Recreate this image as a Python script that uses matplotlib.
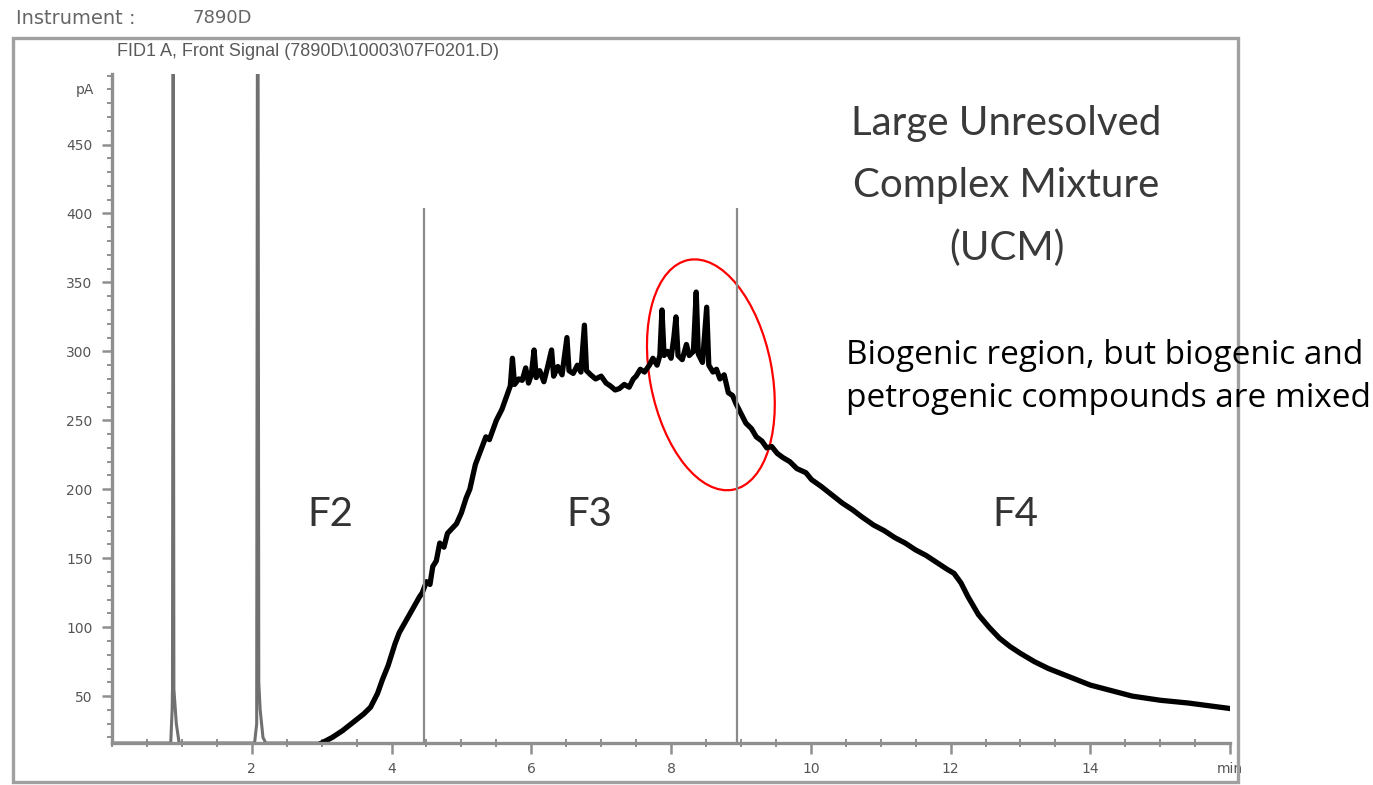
import matplotlib
matplotlib.use("Agg")
import matplotlib.pyplot as plt
from matplotlib.patches import Ellipse, Rectangle
from matplotlib.transforms import ScaledTranslation
from matplotlib.ticker import MultipleLocator

# ---------------- data ----------------
# solvent peaks before the hump (min, pA)
solvent_t = [0.00, 0.84, 0.86, 0.865, 0.875, 0.885, 0.92, 0.96,
             2.04, 2.07, 2.08, 2.09, 2.10, 2.12, 2.16, 2.20, 3.00]
solvent_y = [16, 16, 40, 55, 520, 55, 30, 16,
             16, 30, 520, 520, 60, 40, 20, 16, 16]

# unresolved complex mixture hump (min, pA)
ucm_t = [3.00, 3.15, 3.30, 3.45, 3.60, 3.70, 3.80, 3.87, 3.95, 4.05,
         4.11, 4.20, 4.30, 4.40, 4.44, 4.50, 4.55, 4.59, 4.64, 4.69,
         4.75, 4.80, 4.93, 5.00, 5.07, 5.12, 5.20, 5.26, 5.35, 5.40,
         5.50, 5.58, 5.65, 5.70, 5.73, 5.76, 5.82, 5.87, 5.92, 5.96,
         6.00, 6.04, 6.07, 6.12, 6.18, 6.23, 6.29, 6.32, 6.38, 6.44,
         6.51, 6.54, 6.60, 6.66, 6.71, 6.76, 6.79, 6.85, 6.92, 7.00,
         7.07, 7.13, 7.20, 7.26, 7.33, 7.40, 7.46, 7.50, 7.56, 7.62,
         7.69, 7.74, 7.80, 7.84, 7.87, 7.90, 7.95, 8.00, 8.04, 8.07,
         8.10, 8.16, 8.22, 8.26, 8.32, 8.36, 8.39, 8.45, 8.51, 8.54,
         8.60, 8.65, 8.70, 8.76, 8.82, 8.88, 8.93, 9.00, 9.07, 9.15,
         9.22, 9.30, 9.37, 9.44, 9.52, 9.60, 9.70, 9.80, 9.93, 10.01,
         10.15, 10.30, 10.45, 10.60, 10.73, 10.90, 11.05, 11.20, 11.35, 11.50,
         11.65, 11.80, 11.95, 12.05, 12.15, 12.25, 12.40, 12.55, 12.70, 12.85,
         13.00, 13.20, 13.40, 13.60, 13.80, 14.00, 14.30, 14.60, 15.00, 15.40,
         15.70, 16.00]
ucm_y = [16, 20, 25, 31, 37, 42, 52, 62, 72, 88,
         96, 104, 113, 122, 125, 133, 131, 144, 148, 161,
         158, 168, 175, 183, 194, 200, 218, 226, 238, 236,
         250, 258, 268, 275, 295, 276, 280, 279, 288, 277,
         283, 301, 281, 286, 278, 288, 301, 282, 289, 283,
         310, 286, 284, 290, 285, 319, 286, 283, 280, 282,
         277, 275, 272, 273, 276, 274, 280, 282, 287, 285,
         290, 295, 290, 297, 330, 297, 300, 295, 310, 325,
         297, 294, 305, 297, 300, 343, 298, 292, 332, 290,
         285, 287, 280, 283, 270, 268, 262, 255, 248, 244,
         238, 235, 230, 231, 226, 223, 220, 215, 212, 207,
         202, 196, 190, 185, 180, 174, 170, 165, 161, 156,
         152, 147, 142, 139, 132, 122, 109, 100, 92, 86,
         81, 75, 70, 66, 62, 58, 54, 50, 47, 45,
         43, 41]

# fraction boundaries (min) and their top (pA)
cut_t = [4.47, 8.94]
cut_top = 404

fraction_labels = ["F2", "F3", "F4"]
fraction_t = [3.12, 6.83, 12.93]
fraction_y = 182

y_ticks = [50, 100, 150, 200, 250, 300, 350, 400, 450]
x_ticks = [2, 4, 6, 8, 10, 12, 14, 16]
x_tick_labels = ["2", "4", "6", "8", "10", "12", "14", "min"]

# ---------------- figure ----------------
fig = plt.figure(figsize=(13.73, 7.85), dpi=100)
fig.patch.set_facecolor("white")

# outer grey frame of the screenshot
fig.add_artist(Rectangle((0.0095, 0.004), 0.8925, 0.948, transform=fig.transFigure,
                         fill=False, edgecolor="#a0a0a0", linewidth=2.4))

fig.text(0.012, 0.977, "Instrument :", fontsize=14, color="#666666",
         family="DejaVu Sans", va="center", ha="left")
fig.text(0.140, 0.977, "7890D", fontsize=13, color="#666666",
         family="DejaVu Sans", va="center", ha="left")
fig.text(0.085, 0.935, "FID1 A, Front Signal (7890D\\10003\\07F0201.D)", fontsize=13,
         color="#5a5a5a", family="Liberation Sans", va="center", ha="left")

ax = fig.add_axes([0.0816, 0.0535, 0.8143, 0.852])
ax.set_xlim(0.0, 16.0)
ax.set_ylim(16, 501)

ax.plot(solvent_t, solvent_y, color="#707070", linewidth=2.2, solid_joinstyle="miter")
ax.plot(ucm_t, ucm_y, color="black", linewidth=3.8, solid_joinstyle="round")

for t in cut_t:
    ax.vlines(t, 16, cut_top, color="#8a8a8a", linewidth=1.6)

for lab, t in zip(fraction_labels, fraction_t):
    ax.text(t, fraction_y, lab, fontsize=29, color="#333333", family="Lato",
            ha="center", va="center")

ax.text(12.8, 420, "Large Unresolved\nComplex Mixture\n(UCM)", fontsize=29,
        color="#3a3a3a", family="Lato", ha="center", va="center", linespacing=1.83)

# spines / ticks
for s in ["top", "right"]:
    ax.spines[s].set_visible(False)
for s in ["left", "bottom"]:
    ax.spines[s].set_color("#8f8f8f")
    ax.spines[s].set_linewidth(2.4)

ax.set_yticks(y_ticks)
ax.set_xticks(x_ticks)
ax.set_xticklabels(x_tick_labels)
ax.yaxis.set_minor_locator(MultipleLocator(10))
ax.xaxis.set_minor_locator(MultipleLocator(0.5))
ax.tick_params(axis="y", which="major", direction="out", length=7, width=1.8,
               color="#8f8f8f", labelsize=10, labelcolor="#555555", pad=7)
ax.tick_params(axis="y", which="minor", direction="out", length=3.5, width=1.4,
               color="#8f8f8f")
ax.tick_params(axis="x", which="major", direction="out", length=8, width=1.8,
               color="#8f8f8f", labelsize=10, labelcolor="#555555", pad=6)
ax.tick_params(axis="x", which="minor", direction="inout", length=6, width=1.4,
               color="#8f8f8f")
for lab in ax.get_xticklabels() + ax.get_yticklabels():
    lab.set_family("DejaVu Sans")

ax.text(-0.016, 0.987, "pA", transform=ax.transAxes, fontsize=10, color="#555555",
        family="DejaVu Sans", ha="right", va="top")

# red hand-drawn loop around the biogenic region
loop_center = (8.57, 283)
trans = fig.dpi_scale_trans + ScaledTranslation(loop_center[0], loop_center[1], ax.transData)
ax.add_patch(Ellipse((0, 0), width=2.34, height=1.22, angle=101, transform=trans,
                     fill=False, edgecolor="#ff0000", linewidth=1.6, clip_on=False))

fig.text(0.6165, 0.5197, "Biogenic region, but biogenic and\npetrogenic compounds are mixed",
         fontsize=24, color="black", family="Open Sans", ha="left", va="center",
         linespacing=1.37)

fig.savefig("out.png", dpi=100, facecolor="white")
